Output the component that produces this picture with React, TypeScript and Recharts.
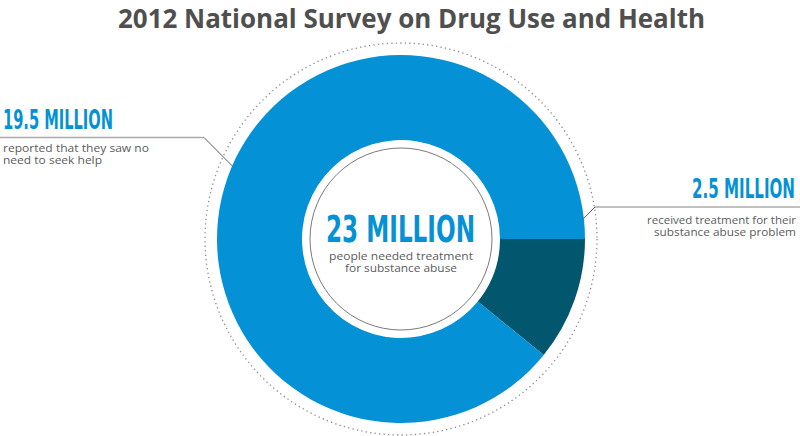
import React from 'react';
import { PieChart, Pie, Cell, Customized } from 'recharts';

const title = '2012 National Survey on Drug Use and Health';
const totalNeeded = 23;
const totalLabel = ['23 MILLION', 'people needed treatment', 'for substance abuse'];

const groups = ['Received treatment', 'Saw no need to seek help'];
const groupValues = [2.5, 19.5];
const groupColors = ['#02576f', '#0591d5'];

// the blue part is drawn as the rest of the 23 million, as in the picture
const sliceData = [
  { name: groups[0], value: groupValues[0] },
  { name: groups[1], value: totalNeeded - groupValues[0] },
];

const leftLabel = ['19.5 MILLION', 'reported that they saw no', 'need to seek help'];
const rightLabel = ['2.5 MILLION', 'received treatment for their', 'substance abuse problem'];

const CX = 401;
const CY = 239;

const bigFont = '"Liberation Sans Narrow", "DejaVu Sans Condensed", "Roboto", sans-serif';
const smallFont = '"Open Sans", "Lato", sans-serif';
const noteColor = '#5c5c5c';

function Overlay() {
  return (
    <g>
      <circle cx={CX} cy={CY} r={196} fill="none" stroke="#8a8a8a" strokeWidth={1.3} strokeDasharray="1.3 3.2" />
      <circle cx={CX} cy={CY} r={101.5} fill="none" stroke="rgba(0,40,80,0.13)" strokeWidth={5} />
      <circle cx={CX} cy={CY} r={99} fill="#ffffff" />
      <circle cx={CX} cy={CY} r={91} fill="none" stroke="#7a7a7a" strokeWidth={1} />

      {/* leader lines */}
      <line x1={0} y1={137.5} x2={204} y2={137.5} stroke="#ababab" strokeWidth={1.5} />
      <line x1={204} y1={137.5} x2={288} y2={222} stroke="#4a4a4a" strokeWidth={0.9} />
      <line x1={595} y1={207} x2={800} y2={207} stroke="#ababab" strokeWidth={1.5} />
      <line x1={595} y1={207} x2={513} y2={290} stroke="#4a4a4a" strokeWidth={0.9} />

      <text x={118} y={28} fontFamily={smallFont} fontWeight={700} fontSize={27} fill="#4f4f4f" textLength={587} lengthAdjust="spacingAndGlyphs">
        {title}
      </text>

      <text x={3} y={129} fontFamily={bigFont} fontWeight={700} fontSize={26} fill="#0591d5" textLength={110} lengthAdjust="spacingAndGlyphs">
        {leftLabel[0]}
      </text>
      <text x={3} y={152} fontFamily={smallFont} fontSize={11} fill={noteColor} textLength={146} lengthAdjust="spacingAndGlyphs">
        {leftLabel[1]}
      </text>
      <text x={3} y={164} fontFamily={smallFont} fontSize={11} fill={noteColor} textLength={99} lengthAdjust="spacingAndGlyphs">
        {leftLabel[2]}
      </text>

      <text x={692} y={198} fontFamily={bigFont} fontWeight={700} fontSize={26} fill="#0591d5" textLength={103} lengthAdjust="spacingAndGlyphs">
        {rightLabel[0]}
      </text>
      <text x={647} y={223.5} fontFamily={smallFont} fontSize={11} fill={noteColor} textLength={149} lengthAdjust="spacingAndGlyphs">
        {rightLabel[1]}
      </text>
      <text x={654} y={235.5} fontFamily={smallFont} fontSize={11} fill={noteColor} textLength={142} lengthAdjust="spacingAndGlyphs">
        {rightLabel[2]}
      </text>

      <text x={326} y={242} fontFamily={bigFont} fontWeight={700} fontSize={38} fill="#0591d5" textLength={149} lengthAdjust="spacingAndGlyphs">
        {totalLabel[0]}
      </text>
      <text x={329} y={260} fontFamily={smallFont} fontSize={11} fill={noteColor} textLength={144} lengthAdjust="spacingAndGlyphs">
        {totalLabel[1]}
      </text>
      <text x={345} y={272} fontFamily={smallFont} fontSize={11} fill={noteColor} textLength={112} lengthAdjust="spacingAndGlyphs">
        {totalLabel[2]}
      </text>
    </g>
  );
}

export default function App() {
  return (
    <div style={{ position: 'absolute', left: 0, top: 0, width: 800, height: 436, background: '#fff' }}>
      <PieChart width={800} height={436} margin={{ top: 0, right: 0, bottom: 0, left: 0 }}>
        <Pie
          data={sliceData}
          dataKey="value"
          cx={CX}
          cy={CY}
          innerRadius={99}
          outerRadius={184}
          startAngle={0}
          endAngle={-360}
          stroke="none"
          isAnimationActive={false}
        >
          {sliceData.map((entry, index) => (
            <Cell key={`cell-${index}`} fill={groupColors[index]} />
          ))}
        </Pie>
        <Customized component={<Overlay />} />
      </PieChart>
    </div>
  );
}
